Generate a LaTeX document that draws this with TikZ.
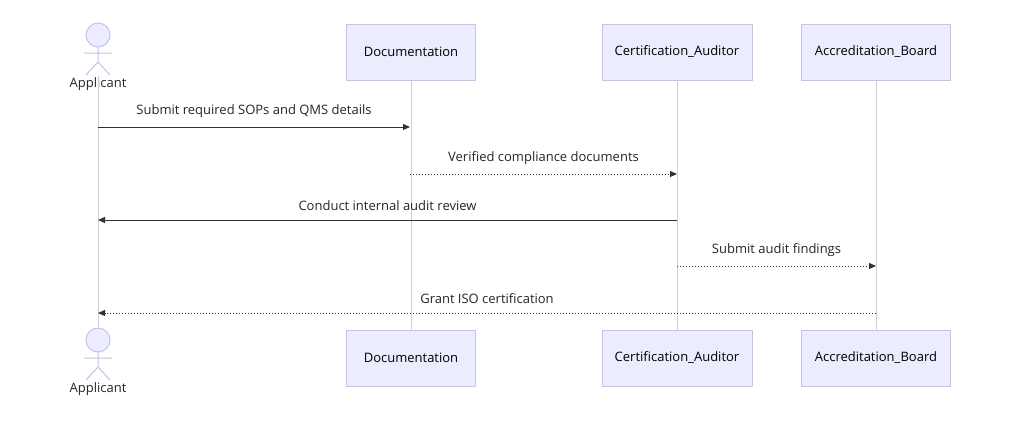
\documentclass[tikz,border=0pt]{standalone}
\usepackage{fontspec}
\setmainfont{Open Sans}
\usetikzlibrary{arrows.meta}
\definecolor{boxfill}{HTML}{ECECFF}
\definecolor{boxline}{HTML}{C8C0F0}
\definecolor{lifeline}{HTML}{D0CCE8}
\begin{document}
\begin{tikzpicture}[x=1pt,y=-1pt,
  part/.style={draw=boxline,fill=boxfill,minimum height=56pt,font=\fontsize{13}{15}\selectfont,inner sep=0pt},
  lbl/.style={font=\fontsize{13}{15}\selectfont,text=black!85},
  msg/.style={draw=black!80,line width=1pt,-{Triangle[length=7pt,width=6pt]}},
  dmsg/.style={msg,dotted}]
\useasboundingbox[fill=white] (0,0) rectangle (1024,434);
% participants
\node[part,minimum width=129pt] (dt) at (411,52) {Documentation};
\node[part,minimum width=150pt] (ct) at (677,52) {Certification\_Auditor};
\node[part,minimum width=149pt] (at) at (876,52) {Accreditation\_Board};
\node[part,minimum width=129pt] (db) at (411,358) {Documentation};
\node[part,minimum width=150pt] (cb) at (677,358) {Certification\_Auditor};
\node[part,minimum width=149pt] (ab) at (876,358) {Accreditation\_Board};
% actors
\coordinate (apt) at (98,62);
\coordinate (apb) at (98,327);
\foreach \y/\n in {22/t,327/b}{
  \draw[boxline,fill=boxfill,line width=1pt] (98,\y+13) circle (12);
  \draw[boxline,line width=1pt] (98,\y+25) -- (98,\y+40) (84,\y+31) -- (112,\y+31)
    (98,\y+40) -- (86,\y+53) (98,\y+40) -- (110,\y+53);
}
\node[lbl] (apl) at (98,84) {Applicant};
\node[lbl] (apl2) at (98,389) {Applicant};
% lifelines
\draw[lifeline,line width=1pt] (98,76) -- (98,327);
\draw[lifeline,line width=1pt] (dt.south) -- (db.north);
\draw[lifeline,line width=1pt] (ct.south) -- (cb.north);
\draw[lifeline,line width=1pt] (at.south) -- (ab.north);
% messages
\coordinate (a1) at (98,127); \coordinate (d1) at (410,127);
\draw[msg] (a1) -- (d1) node[lbl,midway,above=6pt] {Submit required SOPs and QMS details};
\coordinate (d2) at (410,174); \coordinate (c2) at (677,174);
\draw[dmsg] (d2) -- (c2) node[lbl,midway,above=6pt] {Verified compliance documents};
\coordinate (c3) at (677,220); \coordinate (a3) at (98,220);
\draw[msg] (c3) -- (a3) node[lbl,midway,above=6pt] {Conduct internal audit review};
\coordinate (c4) at (677,266); \coordinate (b4) at (876,266);
\draw[dmsg] (c4) -- (b4) node[lbl,midway,above=6pt] {Submit audit findings};
\coordinate (b5) at (876,313); \coordinate (a5) at (98,313);
\draw[dmsg] (b5) -- (a5) node[lbl,midway,above=6pt] {Grant ISO certification};
\end{tikzpicture}
\end{document}
